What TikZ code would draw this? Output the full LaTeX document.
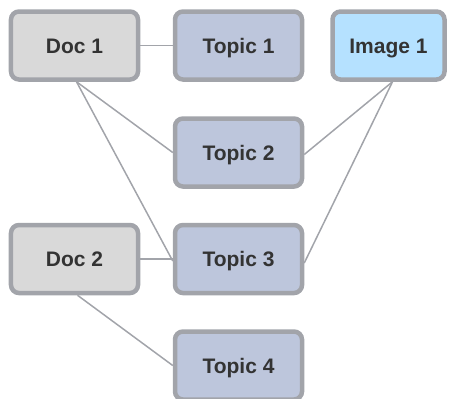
\documentclass[tikz,border=0pt]{standalone}
\usepackage{fontspec}
\setmainfont{Liberation Sans}
\definecolor{bordc}{HTML}{A2A4AA}
\definecolor{docc}{HTML}{D9D9D9}
\definecolor{topc}{HTML}{BDC6DC}
\definecolor{imgc}{HTML}{B5E1FF}
\definecolor{txtc}{HTML}{333333}
\definecolor{edgec}{HTML}{A2A4AA}
\tikzset{
  box/.style={draw=bordc, line width=4.5bp, rounded corners=8bp, minimum width=127bp, minimum height=68bp,
    inner sep=0pt, text height=15bp, text depth=0pt, text=txtc, font=\fontsize{21bp}{25bp}\selectfont\bfseries},
  docbox/.style={box, fill=docc},
  topbox/.style={box, fill=topc},
  imgbox/.style={box, fill=imgc, minimum width=112bp},
  edge/.style={draw=edgec, line width=1.5bp}
}
\begin{document}
\begin{tikzpicture}[x=1bp,y=-1bp]
\useasboundingbox (0,0) rectangle (457,398);
\node[docbox] (d1) at (74.5,45.5) {Doc 1};
\node[topbox] (t1) at (238.5,45.5) {Topic 1};
\node[imgbox] (i1) at (388.5,45.5) {Image 1};
\node[topbox] (t2) at (238.5,152.5) {Topic 2};
\node[docbox] (d2) at (74.5,259) {Doc 2};
\node[topbox] (t3) at (238.5,259) {Topic 3};
\node[topbox] (t4) at (238.5,365.5) {Topic 4};
\draw[edge] (d1.east) -- (t1.west);
\draw[edge] ([xshift=2bp]d1.south) -- (t2.west);
\draw[edge] ([xshift=2bp]d1.south) -- ([yshift=-2bp]t3.west);
\draw[edge] ([xshift=4bp]i1.south) -- ([yshift=-2bp]t2.east);
\draw[edge] ([xshift=4bp]i1.south) -- ([yshift=-4bp]t3.east);
\draw[edge] (d2.east) -- (t3.west);
\draw[edge] ([xshift=3bp]d2.south) -- (t4.west);
\end{tikzpicture}
\end{document}
